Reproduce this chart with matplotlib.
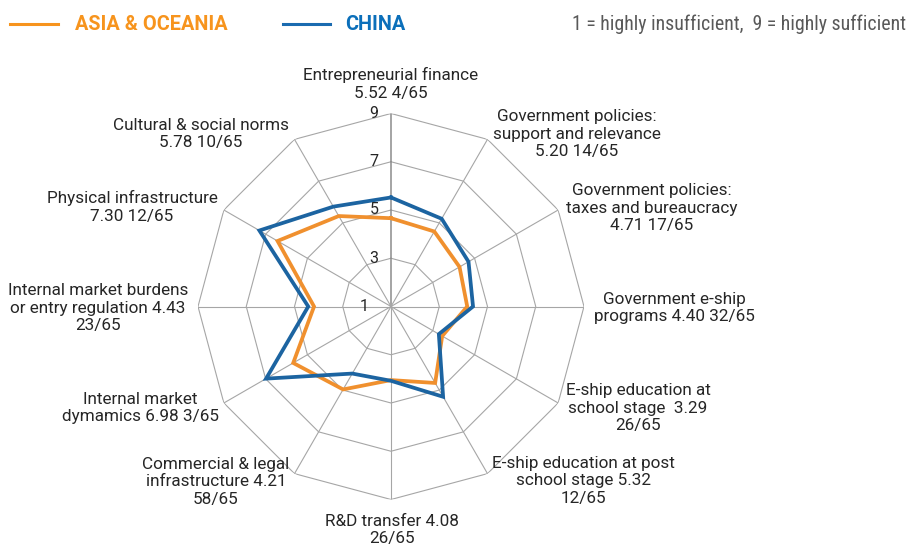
import numpy as np
import matplotlib
matplotlib.use("Agg")
import matplotlib.pyplot as plt

categories = [
    "Entrepreneurial finance\n5.52 4/65",
    "Government policies:\nsupport and relevance\n5.20 14/65",
    "Government policies:\ntaxes and bureaucracy\n4.71 17/65",
    "Government e-ship\nprograms 4.40 32/65",
    "E-ship education at\nschool stage  3.29\n26/65",
    "E-ship education at post\nschool stage 5.32\n12/65",
    "R&D transfer 4.08\n26/65",
    "Commercial & legal\ninfrastructure 4.21\n58/65",
    "Internal market\ndymamics 6.98 3/65",
    "Internal market burdens\nor entry regulation 4.43\n23/65",
    "Physical infrastructure\n7.30 12/65",
    "Cultural & social norms\n5.78 10/65",
]
china = [5.52, 5.20, 4.71, 4.40, 3.29, 5.32, 4.08, 4.21, 6.98, 4.43, 7.30, 5.78]
asia = [4.66, 4.59, 4.28, 4.16, 3.45, 4.66, 4.05, 4.97, 5.68, 4.19, 6.43, 5.33]
ticks = [1, 3, 5, 7, 9]
series_names = ["ASIA & OCEANIA", "CHINA"]

W, H = 909, 548
fig = plt.figure(figsize=(W / 100, H / 100), dpi=100)
cx, cy, R = 391, 306.5, 193
ax = fig.add_axes([(cx - R) / W, (H - cy - R) / H, 2 * R / W, 2 * R / H], projection="polar")
ax.set_theta_zero_location("N")
ax.set_theta_direction(-1)
ax.set_ylim(1, 9)
ax.grid(False)
ax.set_xticks([])
ax.set_yticks([])
ax.spines["polar"].set_visible(False)
ax.patch.set_alpha(0)

n = len(categories)
theta = np.arange(n) * 2 * np.pi / n
theta_c = np.append(theta, theta[0])

grid_col = "#a6a6a6"
for t in ticks[1:]:
    ax.plot(theta_c, [t] * (n + 1), color=grid_col, lw=0.8, zorder=1)
for i, th in enumerate(theta):
    ax.plot([th, th], [1, 9], color="#8c8c8c" if i in (0,) else grid_col,
            lw=1.1 if i == 0 else 0.8, zorder=1)

orange = "#F0902E"
blue = "#1C64A1"
ax.plot(theta_c, asia + asia[:1], color=orange, lw=2.7, zorder=3, solid_joinstyle="miter")
ax.plot(theta_c, china + china[:1], color=blue, lw=2.7, zorder=4, solid_joinstyle="miter")

lab_font = ["Roboto", "DejaVu Sans"]
for t in ticks:
    off = -16 if t == 1 else -9
    ax.annotate(str(t), xy=(0, t), xytext=(off, 0), textcoords="offset points",
                ha="right", va="center", fontsize=11.5, color="#262626", family=lab_font, zorder=5)

label_pos = [(391, 84), (577, 134), (652, 208), (674, 308), (638, 408), (583, 481),
             (392, 530), (216, 482), (140, 408), (98, 308), (132, 207), (201, 134)]
for lab, (x, y) in zip(categories, label_pos):
    fig.text(x / W, 1 - y / H, lab, ha="center", va="center", fontsize=12.3,
             color="#262626", family=lab_font, linespacing=1.22, multialignment="center")

# legend
leg_font = ["Roboto", "DejaVu Sans"]
cond_font = ["Roboto Condensed", "Roboto", "DejaVu Sans"]
fig.add_artist(plt.Line2D([10 / W, 58 / W], [1 - 24 / H] * 2, color="#F7941D", lw=2.2))
fig.text(75 / W, 1 - 24 / H, series_names[0], ha="left", va="center", fontsize=14.3,
         fontweight="bold", color="#F7941D", family=leg_font)
fig.add_artist(plt.Line2D([283 / W, 330 / W], [1 - 24 / H] * 2, color="#1A6BB0", lw=2.2))
fig.text(345 / W, 1 - 24 / H, series_names[1], ha="left", va="center", fontsize=14.3,
         fontweight="bold", color="#0B6FBA", family=leg_font)
fig.text(906 / W, 1 - 24 / H, "1 = highly insufficient,  9 = highly sufficient", ha="right",
         va="center", fontsize=14.3, color="#595959", family=cond_font)

fig.savefig("out.png", dpi=100)
